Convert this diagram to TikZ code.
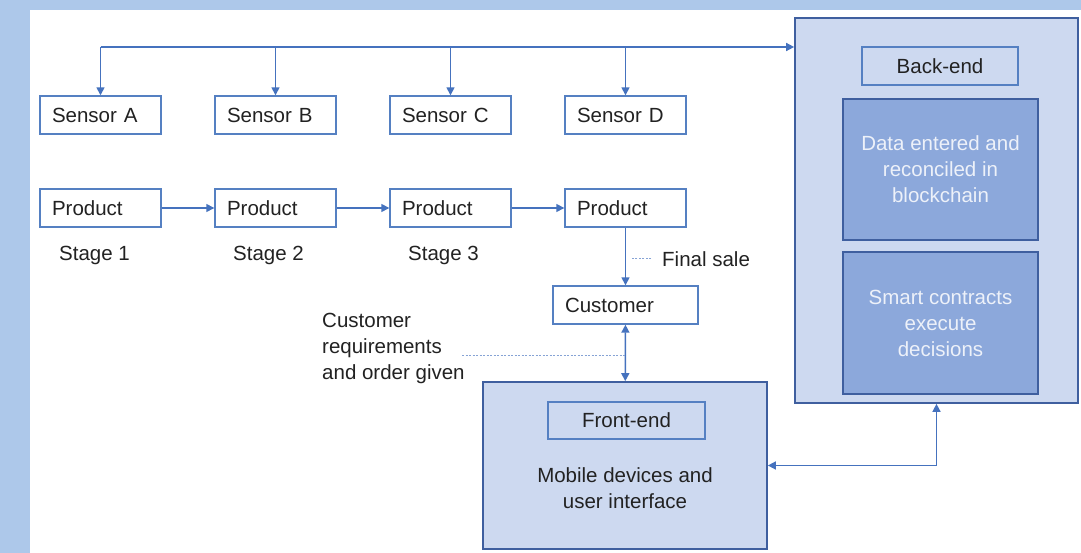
\documentclass[tikz,border=0pt]{standalone}
\usepackage{fontspec}
\setmainfont{Liberation Sans}
\usetikzlibrary{arrows.meta}
\definecolor{framebg}{HTML}{ADC8EA}
\definecolor{wire}{HTML}{4572BE}
\definecolor{boxline}{HTML}{5580C2}
\definecolor{panel}{HTML}{CDD9F0}
\definecolor{deep}{HTML}{8CA8DB}
\definecolor{deepline}{HTML}{3F5F9F}
\definecolor{ink}{HTML}{222222}
\definecolor{softink}{HTML}{EDF1F9}
\begin{document}
\begin{tikzpicture}[x=1pt,y=-1pt,
  font=\fontsize{20.5}{26}\selectfont,
  box/.style={draw=boxline, line width=1.4pt, fill=white, text=ink, inner sep=0pt,
    minimum height=38pt},
  smallbox/.style={box, text width=97pt, inner xsep=12pt, align=left, minimum width=121pt},
  panelbox/.style={draw=deepline, line width=1.7pt, fill=panel, inner sep=0pt},
  tagbox/.style={draw=boxline, line width=1.4pt, fill=panel, text=ink, inner sep=0pt,
    minimum height=37pt, align=center},
  deepbox/.style={draw=deepline, line width=1.7pt, fill=deep, text=softink,
    inner sep=0pt, minimum width=195pt, align=center},
  label/.style={text=ink, inner sep=0pt, anchor=west},
  conn/.style={draw=wire, line width=1.5pt, -{Triangle[length=8pt,width=8pt]}},
  conn2/.style={draw=wire, line width=1.5pt,
    {Triangle[length=8pt,width=8pt]}-{Triangle[length=8pt,width=8pt]}},
  dotline/.style={draw=wire!65, line width=1pt, dash pattern=on 2pt off 1.5pt}
]
% page background and white sheet
\fill[framebg] (0,0) rectangle (1081,553);
\fill[white] (30,10) rectangle (1081,553);
\useasboundingbox (0,0) rectangle (1081,553);

% back-end block
\node[panelbox, minimum width=283pt, minimum height=385pt] (be) at (936.5,210.5) {};
\node[tagbox, minimum width=156pt, minimum height=38pt] (betag) at (940,66) {Back-end};
\node[deepbox, minimum height=141pt] (data) at (940.5,169.5)
  {Data entered and\\reconciled in\\blockchain};
\node[deepbox, minimum height=142pt] (smart) at (940.5,323)
  {Smart contracts\\execute\\decisions};

% front-end block
\node[panelbox, minimum width=284pt, minimum height=167pt] (fe) at (625,465.5) {};
\node[tagbox, minimum width=157pt] (fetag) at (626.5,420.5) {Front-end};
\node[text=ink, inner sep=0pt, align=center] (mob) at (625,488)
  {Mobile devices and\\user interface};

% sensors
\node[smallbox] (sa) at (100.5,115) {Sensor A};
\node[smallbox] (sb) at (275.5,115) {Sensor B};
\node[smallbox] (sc) at (450.5,115) {Sensor C};
\node[smallbox] (sd) at (625.5,115) {Sensor D};

% product stages
\node[smallbox] (p1) at (100.5,208) {Product};
\node[smallbox] (p2) at (275.5,208) {Product};
\node[smallbox] (p3) at (450.5,208) {Product};
\node[smallbox] (p4) at (625.5,208) {Product};
\node[label] (s1) at (59,255) {Stage 1};
\node[label] (s2) at (233,255) {Stage 2};
\node[label] (s3) at (408,255) {Stage 3};

% customer
\node[box, text width=121pt, inner xsep=12pt, align=left, minimum width=145pt]
  (cu) at (625.5,305) {Customer};
\node[label] (fsale) at (662,259) {Final sale};
\node[label, align=left] (req) at (322,348)
  {Customer\\requirements\\and order given};

% sensor bus
\coordinate (bus) at (625,47);
\draw[conn] (sa.north |- bus) -- (be.west |- bus);
\foreach \s in {sa,sb,sc,sd}
  \draw[conn] (\s.north |- bus) -- (\s.north);

% product flow
\draw[conn] (p1) -- (p2);
\draw[conn] (p2) -- (p3);
\draw[conn] (p3) -- (p4);
\draw[conn] (p4) -- (cu);
\draw[dotline] ([xshift=-11pt]fsale.west) -- ([xshift=-31pt]fsale.west);

% customer to front-end, front-end to back-end
\draw[conn2] (cu) -- (fe);
\coordinate (reqtip) at (462,355);
\draw[dotline] (reqtip) -- (reqtip -| cu.south);
\draw[conn2] (fe.east) -| (be.south);
\end{tikzpicture}
\end{document}
